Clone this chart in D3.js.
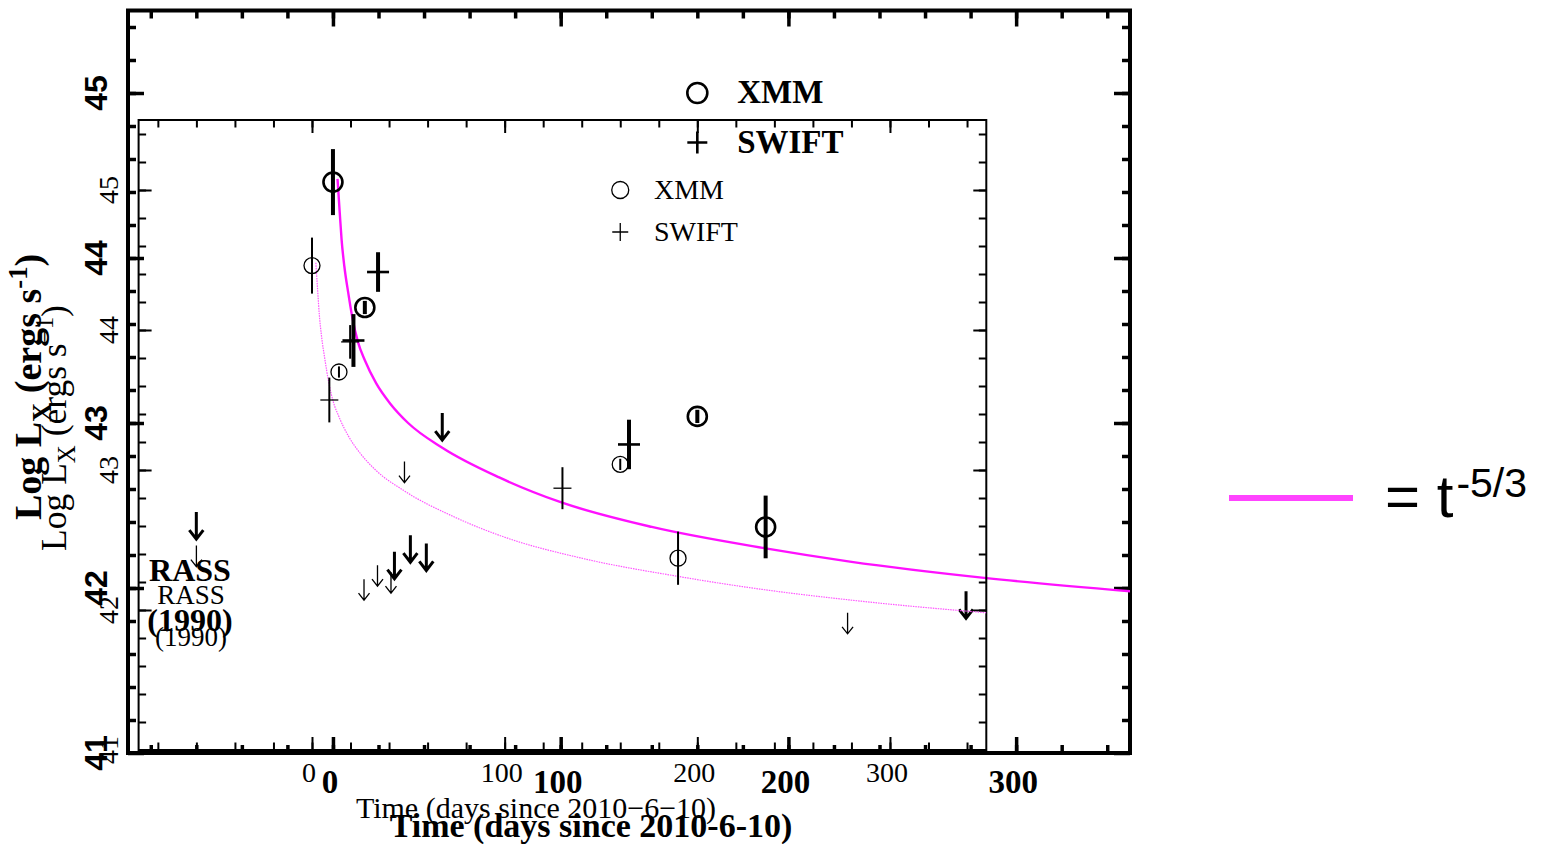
<!DOCTYPE html>
<html><head><meta charset="utf-8">
<script src="https://cdn.jsdelivr.net/npm/d3@7"></script>
<style>body{margin:0;background:#fff} svg{display:block}</style>
</head><body>
<svg id="c" width="1548" height="844"></svg>
<script>
// ---- data ----
const xmmDays  = [0, 14, 160, 190];
const xmmLogL  = [44.46, 43.70, 43.04, 42.37];
const xmmErr   = [0.20, 0.04, 0.04, 0.19];

const swiftDays = [9, 19.8, 130];
const swiftLogL = [43.50, 43.915, 42.87];
const swiftErr  = [0.16, 0.12, 0.15];

const limitDays = [-60, 27, 34, 41, 48, 278];
const limitLogL = [42.46, 42.22, 42.32, 42.27, 43.06, 41.98];

const modelDays = [2, 3, 3.8, 5, 6.7, 8.5, 11, 14, 19, 25, 33, 48, 73, 100, 140, 190, 227, 287, 350];
const modelLogL = [44.48, 44.27, 44.11, 43.95, 43.79, 43.64, 43.49, 43.38, 43.24, 43.12, 43.00, 42.85, 42.67, 42.52, 42.37, 42.24, 42.16, 42.06, 41.98];

const xDomain = [-90, 350];
const yDomain = [41, 45.5];
const xMajorTicks = [0, 100, 200, 300];
const xMinorTicks = d3.range(-80, 341, 20);
const yMajorTicks = [41, 42, 43, 44, 45];
const yMinorTicks = d3.range(206, 228).map(v => v / 5);
const legendNames = ["XMM", "SWIFT"];
const rassLabel = ["RASS", "(1990)"];

const svg = d3.select("#c");
const SERIF = "'Liberation Serif','Times New Roman',serif";
const SANS = "'Liberation Sans',Arial,sans-serif";

const plots = [
  { id: "big", x0: 128, x1: 1130, y0: 10.5, y1: 753, bold: true,
    frameW: 4, tickW: 3.5, majLen: 16, minLen: 8,
    r: 9.5, symW: 2.6, barW: 4, plusHalf: 11,
    arrL: 27, arrHW: 7, arrHL: 9, arrW: 3,
    curveW: 2.4, curveCol: "#ff10ff", curveDash: null,
    yLabFont: SANS, yLabSize: 32, yLabX: 107,
    xLabSize: 33, xLabY: 793,
    xTitle: "Time (days since 2010-6-10)", xTitleSize: 34, xTitleX: 591, xTitleY: 837,
    yTitleSize: 38, yTitleX: 41, yTitleY: 387, minus: "-",
    legSize: 33, rassSize: 32 },
  { id: "small", x0: 138.6, x1: 986.3, y0: 120, y1: 750, bold: false,
    frameW: 2, tickW: 2, majLen: 13, minLen: 7.5,
    r: 8, symW: 1.3, barW: 2, plusHalf: 9,
    arrL: 21, arrHW: 5.5, arrHL: 7, arrW: 1.3,
    curveW: 1.2, curveCol: "#ff55ff", curveDash: "1.5,1",
    yLabFont: SERIF, yLabSize: 28, yLabX: 118,
    xLabSize: 28, xLabY: 782,
    xTitle: "Time (days since 2010\u22126\u221210)", xTitleSize: 30, xTitleX: 536, xTitleY: 818,
    yTitleSize: 35.5, yTitleX: 66, yTitleY: 428, minus: "\u2212",
    legSize: 28, rassSize: 27 }
];

plots.forEach(p => {
  const x = d3.scaleLinear().domain(xDomain).range([p.x0, p.x1]);
  const y = d3.scaleLinear().domain(yDomain).range([p.y1, p.y0]);
  const g = svg.append("g").attr("class", p.id);
  const fw = p.bold ? "bold" : "normal";

  const clipId = "clip-" + p.id;
  svg.append("defs").append("clipPath").attr("id", clipId)
    .append("rect").attr("x", p.x0).attr("y", p.y0)
    .attr("width", p.x1 - p.x0).attr("height", p.y1 - p.y0);

  function addAxis(axisGen, tx, ty) {
    const a = g.append("g").attr("transform", `translate(${tx},${ty})`).call(axisGen);
    a.select(".domain").remove();
    a.selectAll("text").remove();
    a.selectAll("line").attr("stroke", "#000").attr("stroke-width", p.tickW);
  }
  [[d3.axisBottom, 0, p.y1], [d3.axisTop, 0, p.y0]].forEach(([f, tx, ty]) => {
    addAxis(f(x).tickValues(xMinorTicks).tickSize(-p.minLen).tickFormat(""), tx, ty);
    addAxis(f(x).tickValues(xMajorTicks).tickSize(-p.majLen).tickFormat(""), tx, ty);
  });
  [[d3.axisLeft, p.x0, 0], [d3.axisRight, p.x1, 0]].forEach(([f, tx, ty]) => {
    addAxis(f(y).tickValues(yMinorTicks).tickSize(-p.minLen).tickFormat(""), tx, ty);
    addAxis(f(y).tickValues(yMajorTicks).tickSize(-p.majLen).tickFormat(""), tx, ty);
  });

  g.append("rect").attr("x", p.x0).attr("y", p.y0)
    .attr("width", p.x1 - p.x0).attr("height", p.y1 - p.y0)
    .attr("fill", "none").attr("stroke", "#000").attr("stroke-width", p.frameW);

  g.selectAll(".xl").data(xMajorTicks).join("text")
    .attr("x", d => x(d) - 3).attr("y", p.xLabY)
    .attr("text-anchor", "middle").attr("font-family", SERIF)
    .attr("font-weight", fw).attr("font-size", p.xLabSize).text(d => d);
  g.selectAll(".yl").data(yMajorTicks).join("text")
    .attr("transform", d => `translate(${p.yLabX},${y(d)}) rotate(-90)`)
    .attr("text-anchor", "middle").attr("font-family", p.yLabFont)
    .attr("font-weight", fw).attr("font-size", p.yLabSize).text(d => d);

  g.append("text").attr("x", p.xTitleX).attr("y", p.xTitleY)
    .attr("text-anchor", "middle").attr("font-family", SERIF)
    .attr("font-weight", fw).attr("font-size", p.xTitleSize).text(p.xTitle);
  const yt = g.append("text")
    .attr("transform", `translate(${p.yTitleX},${p.yTitleY}) rotate(-90)`)
    .attr("text-anchor", "middle").attr("font-family", SERIF)
    .attr("font-weight", fw).attr("font-size", p.yTitleSize);
  yt.append("tspan").text("Log  L");
  yt.append("tspan").attr("font-size", p.yTitleSize * 0.7).attr("dy", p.yTitleSize * 0.25).text("X");
  yt.append("tspan").attr("dy", -p.yTitleSize * 0.25).text(" (ergs s");
  yt.append("tspan").attr("font-size", p.yTitleSize * 0.7).attr("dy", -p.yTitleSize * 0.38).text(p.minus + "1");
  yt.append("tspan").attr("dy", p.yTitleSize * 0.38).text(")");

  const line = d3.line().x((d, i) => x(modelDays[i])).y((d, i) => y(modelLogL[i])).curve(d3.curveMonotoneX);
  g.append("path").attr("clip-path", `url(#${clipId})`)
    .attr("d", line(modelDays)).attr("fill", "none")
    .attr("stroke", p.curveCol).attr("stroke-width", p.curveW)
    .attr("stroke-dasharray", p.curveDash);

  xmmDays.forEach((d, i) => {
    g.append("line").attr("x1", x(d)).attr("x2", x(d))
      .attr("y1", y(xmmLogL[i] + xmmErr[i])).attr("y2", y(xmmLogL[i] - xmmErr[i]))
      .attr("stroke", "#000").attr("stroke-width", p.barW);
    g.append("circle").attr("cx", x(d)).attr("cy", y(xmmLogL[i])).attr("r", p.r)
      .attr("fill", "none").attr("stroke", "#000").attr("stroke-width", p.symW);
  });
  swiftDays.forEach((d, i) => {
    g.append("line").attr("x1", x(d)).attr("x2", x(d))
      .attr("y1", y(swiftLogL[i] + swiftErr[i])).attr("y2", y(swiftLogL[i] - swiftErr[i]))
      .attr("stroke", "#000").attr("stroke-width", p.barW);
    g.append("line").attr("x1", x(d) - p.plusHalf).attr("x2", x(d) + p.plusHalf)
      .attr("y1", y(swiftLogL[i])).attr("y2", y(swiftLogL[i]))
      .attr("stroke", "#000").attr("stroke-width", p.symW);
  });
  limitDays.forEach((d, i) => {
    const cx = x(d), cy = y(limitLogL[i]), b = cy + p.arrL;
    g.append("path")
      .attr("d", `M${cx},${cy}V${b}M${cx - p.arrHW},${b - p.arrHL}L${cx},${b}L${cx + p.arrHW},${b - p.arrHL}`)
      .attr("fill", "none").attr("stroke", "#000").attr("stroke-width", p.arrW);
  });

  rassLabel.forEach((t, i) => {
    g.append("text").attr("x", x(-62.8)).attr("y", y([42.04, 41.74][i]))
      .attr("text-anchor", "middle").attr("font-family", SERIF)
      .attr("font-weight", fw).attr("font-size", p.rassSize).text(t);
  });

  const lx = x(160), ly0 = y(45), ly1 = y(44.7);
  g.append("circle").attr("cx", lx).attr("cy", ly0).attr("r", p.r + 0.5)
    .attr("fill", "none").attr("stroke", "#000").attr("stroke-width", p.symW);
  g.append("path").attr("d", `M${lx - p.plusHalf + 1},${ly1}H${lx + p.plusHalf - 1}M${lx},${ly1 - p.plusHalf}V${ly1 + p.plusHalf}`)
    .attr("stroke", "#000").attr("stroke-width", p.symW);
  legendNames.forEach((t, i) => {
    g.append("text").attr("x", x(177.5)).attr("y", [ly0, ly1][i] + 0.31 * p.legSize)
      .attr("font-family", SERIF).attr("font-weight", fw)
      .attr("font-size", p.legSize).text(t);
  });
});

svg.append("line").attr("x1", 1229).attr("x2", 1353).attr("y1", 498).attr("y2", 498)
  .attr("stroke", "#ff44ff").attr("stroke-width", 6);
const mt = svg.append("text").attr("x", 1385).attr("y", 517)
  .attr("font-family", SANS).attr("font-size", 60);
mt.append("tspan").text("= t");
mt.append("tspan").attr("font-size", 41).attr("dx", 3).attr("dy", -20).text("-5/3");
</script>
</body></html>
